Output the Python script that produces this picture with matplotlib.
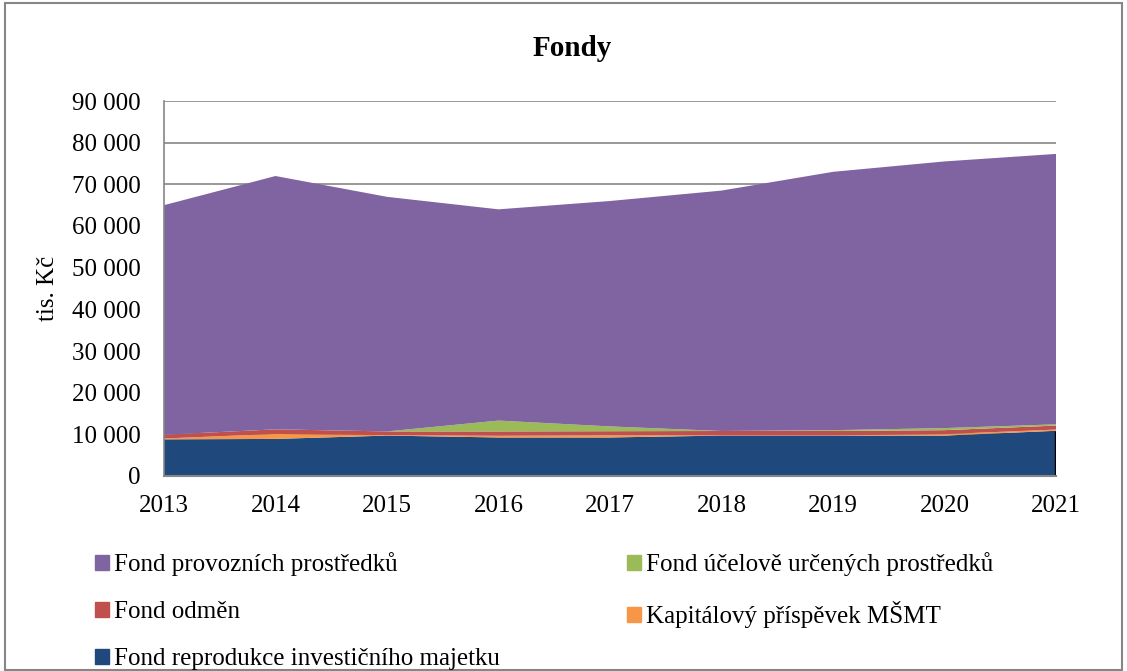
import matplotlib.pyplot as plt
from matplotlib.ticker import FuncFormatter
from matplotlib.patches import Rectangle

plt.rcParams['font.family'] = ['Liberation Serif', 'DejaVu Serif']

years = [2013, 2014, 2015, 2016, 2017, 2018, 2019, 2020, 2021]
# values in tis. Kc
reprodukce = [8800, 8900, 9700, 9250, 9250, 9700, 9700, 9700, 10850]
kapitalovy = [200, 1200, 100, 400, 500, 50, 50, 350, 300]
odmen = [900, 1100, 900, 1050, 1000, 1050, 1050, 950, 950]
ucelove = [0, 0, 0, 2600, 1150, 0, 200, 500, 300]
celkem = [65000, 72000, 67000, 64000, 66000, 68500, 73000, 75500, 77300]
provozni = [c - a - b - d - e for c, a, b, d, e in zip(celkem, reprodukce, kapitalovy, odmen, ucelove)]

names = ["Fond reprodukce investičního majetku", "Kapitálový příspěvek MŠMT",
         "Fond odměn", "Fond účelově určených prostředků", "Fond provozních prostředků"]
colors = ["#1F497D", "#F79646", "#C0504D", "#9BBB59", "#8064A2"]

W, H = 1127, 671
fig = plt.figure(figsize=(W/100, H/100), dpi=100)
ax = fig.add_axes([164/W, 1 - 476/H, (1056-164)/W, (476-101)/H])

ax.stackplot(years, reprodukce, kapitalovy, odmen, ucelove, provozni,
             colors=colors, labels=names, linewidth=0)
# dark edge on the right side of the bottom series
ax.vlines(years[-1], 0, reprodukce[-1], color='black', linewidth=2.5, zorder=3)

ax.set_xlim(2013, 2021)
ax.set_ylim(0, 90000)
ax.set_yticks(range(0, 90001, 10000))
ax.yaxis.set_major_formatter(FuncFormatter(lambda v, p: f"{int(v):,}".replace(",", " ")))
ax.set_xticks(years)
ax.grid(axis='y', color='#868686', linewidth=1.2)
ax.set_axisbelow(True)
for s in ['top', 'right']:
    ax.spines[s].set_visible(False)
ax.spines['left'].set_color('#868686')
ax.spines['bottom'].set_color('#868686')
ax.spines['left'].set_linewidth(1.2)
ax.spines['bottom'].set_linewidth(1.5)
ax.spines['bottom'].set_zorder(4)
ax.tick_params(length=0, labelsize=18)
ax.tick_params(axis='y', pad=17)
ax.tick_params(axis='x', pad=14)

fig.text(48/W, 1 - 288/H, "tis. Kč", rotation=90, fontsize=18, ha='center', va='center')
fig.text(572/W, 1 - 48/H, "Fondy", fontsize=21, fontweight='bold', ha='center', va='center')

# legend: row order purple, green / red, orange / blue
order = [4, 2, 0, 3, 1]
handles = [Rectangle((0, 0), 1, 1, color=colors[i]) for i in order]
labels = [names[i] for i in order]
fig.legend(handles, labels, ncol=2, loc='upper left', bbox_to_anchor=(95/W, 1 - 552/H),
           frameon=False, fontsize=18, handlelength=0.55, handleheight=0.55,
           handletextpad=0.2, columnspacing=5.1, labelspacing=1.0,
           borderpad=0, borderaxespad=0)

fig.patches.append(Rectangle((0.004, 0.002), 0.992, 0.994, transform=fig.transFigure,
                             fill=False, edgecolor='#868686', linewidth=1.5))

fig.savefig("out.png", dpi=100)
